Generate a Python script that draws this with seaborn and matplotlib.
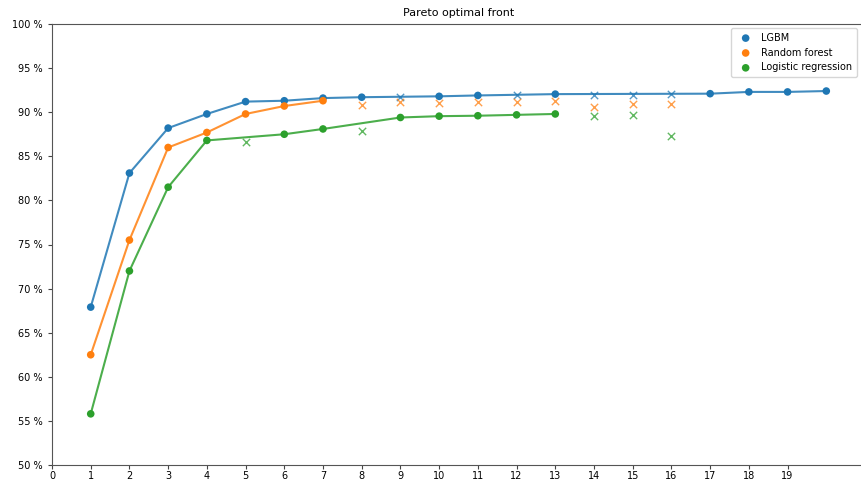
import numpy as np
import pandas as pd
import matplotlib
matplotlib.use("Agg")
import matplotlib.pyplot as plt
import seaborn as sns
from matplotlib.ticker import FuncFormatter

# ---- data ----
models = ["LGBM", "Random forest", "Logistic regression"]
colors = ["#1f77b4", "#ff7f0e", "#2ca02c"]

lgbm_n = list(range(1, 21))
lgbm_score = [67.9, 83.1, 88.2, 89.8, 91.2, 91.3, 91.6, 91.7, 91.7, 91.8,
              91.9, 91.9, 92.05, 91.9, 92.0, 92.05, 92.1, 92.3, 92.3, 92.4]
lgbm_pareto = [1, 1, 1, 1, 1, 1, 1, 1, 0, 1, 1, 0, 1, 0, 0, 0, 1, 1, 1, 1]

rf_n = list(range(1, 17))
rf_score = [62.5, 75.5, 86.0, 87.7, 89.8, 90.7, 91.3, 90.8, 91.1, 91.0,
            91.1, 91.15, 91.25, 90.55, 90.9, 90.9]
rf_pareto = [1, 1, 1, 1, 1, 1, 1, 0, 0, 0, 0, 0, 0, 0, 0, 0]

lr_n = list(range(1, 17))
lr_score = [55.8, 72.0, 81.5, 86.8, 86.6, 87.5, 88.1, 87.9, 89.4, 89.55,
            89.6, 89.7, 89.8, 89.55, 89.7, 87.3]
lr_pareto = [1, 1, 1, 1, 0, 1, 1, 0, 1, 1, 1, 1, 1, 0, 0, 0]

x_ticks = list(range(0, 20))
y_ticks = list(range(50, 101, 5))

frames = []
for name, n, s, p in [(models[0], lgbm_n, lgbm_score, lgbm_pareto),
                      (models[1], rf_n, rf_score, rf_pareto),
                      (models[2], lr_n, lr_score, lr_pareto)]:
    frames.append(pd.DataFrame({"model": name, "n": n, "score": s,
                                "pareto": [bool(v) for v in p]}))
df = pd.concat(frames, ignore_index=True)

fig = plt.figure(figsize=(8.62, 4.8), dpi=100)
ax = fig.add_axes([52 / 862, 15 / 480, (865 - 52) / 862, 441 / 480])

for name, col in zip(models, colors):
    d = df[df.model == name]
    front = d[d.pareto]
    dom = d[~d.pareto]
    sns.lineplot(data=front, x="n", y="score", color=col, lw=1.5, alpha=0.85,
                 ax=ax, legend=False, sort=True)
    sns.scatterplot(data=front, x="n", y="score", color=col, s=30,
                    edgecolor="none", ax=ax, label=name, zorder=3)
    sns.scatterplot(data=dom, x="n", y="score", color=col, marker="x", s=28,
                    linewidth=1.0, alpha=0.75, ax=ax, legend=False, zorder=3)

ax.set_xlim(0, 21)
ax.set_ylim(50, 100)
ax.set_xticks(x_ticks)
ax.set_yticks(y_ticks)
ax.yaxis.set_major_formatter(FuncFormatter(lambda v, p: f"{int(v)} %"))
ax.tick_params(labelsize=7, length=3, color="#444444")
ax.tick_params(axis="x", pad=1.5)
for sp in ax.spines.values():
    sp.set_color("#555555")
ax.set_xlabel("")
ax.set_ylabel("")
ax.set_title("Pareto optimal front", fontsize=8)
ax.legend(loc="upper right", fontsize=7, bbox_to_anchor=(0.994, 0.998),
          handletextpad=0.6, borderpad=0.5, borderaxespad=0.3)

fig.savefig("out.png", dpi=100)
